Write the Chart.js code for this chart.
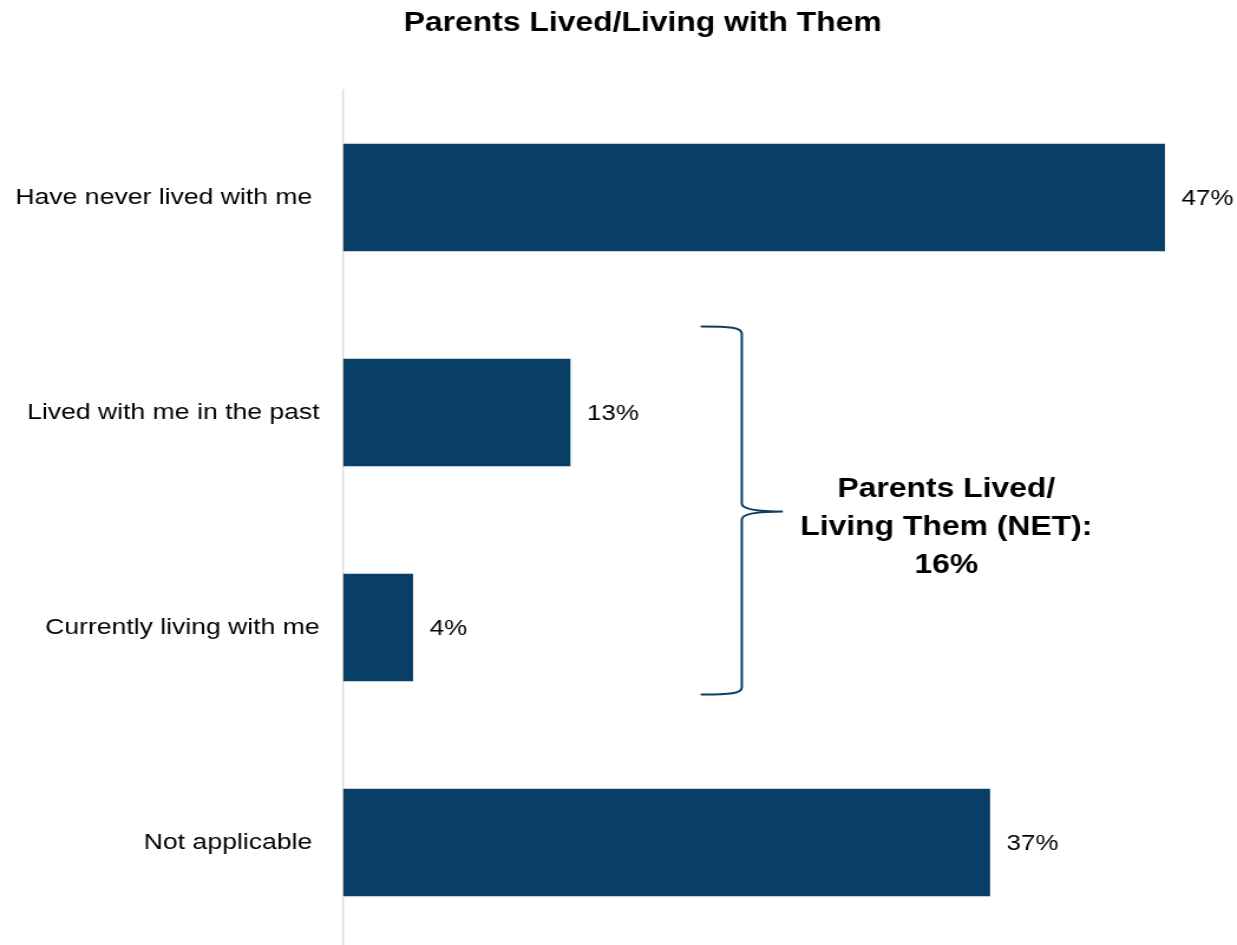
<!DOCTYPE html>
<html>
<head>
<meta charset="utf-8">
<title>Parents Lived/Living with Them</title>
<script src="https://cdn.jsdelivr.net/npm/chart.js@4/dist/chart.umd.min.js"></script>
<style>
  html, body { margin: 0; padding: 0; background: #ffffff; overflow: hidden; }
  #frame {
    position: relative;
    width: 1237px; height: 945px;
    overflow: hidden;
  }
  #chart {
    position: absolute; left: 0; top: 0;
    transform: scaleX(1.1803);
    transform-origin: 0 0;
  }
</style>
</head>
<body>
<div id="frame"><canvas id="chart" width="1048" height="951"></canvas></div>
<script>
// Survey answers and their shares (%)
const categories = [
  'Have never lived with me ',
  'Lived with me in the past',
  'Currently living with me',
  'Not applicable '
];
const shares = [47, 13, 4, 37];

const chartTitle = 'Parents Lived/Living with Them';
const netLines = ['Parents Lived/', 'Living Them (NET):', '16%'];
const netRange = [1, 2]; // categories grouped by the brace

const FONT = '"Liberation Sans", Arial, Helvetica, sans-serif';
const BAR = '#093e66';

// Title above the plot
const titlePlugin = {
  id: 'topTitle',
  afterDraw(chart) {
    const ctx = chart.ctx;
    ctx.save();
    ctx.font = 'bold 27px ' + FONT;
    ctx.fillStyle = '#000000';
    ctx.textAlign = 'center';
    ctx.textBaseline = 'alphabetic';
    ctx.fillText(chartTitle, 544.5, 31);
    ctx.restore();
  }
};

// Percent labels at the end of each bar
const valueLabels = {
  id: 'valueLabels',
  afterDatasetsDraw(chart) {
    const ctx = chart.ctx;
    const meta = chart.getDatasetMeta(0);
    ctx.save();
    ctx.font = '22px ' + FONT;
    ctx.fillStyle = '#000000';
    ctx.textAlign = 'left';
    ctx.textBaseline = 'middle';
    meta.data.forEach((bar, i) => {
      ctx.fillText(shares[i] + '%', bar.x + 14, bar.y + 1);
    });
    ctx.restore();
  }
};

// Curly brace and NET summary next to the grouped bars
const netBrace = {
  id: 'netBrace',
  afterDraw(chart) {
    const ctx = chart.ctx;
    const xs = chart.scales.x;
    const ys = chart.scales.y;
    const x0 = xs.getPixelForValue(20.5);
    const x1 = xs.getPixelForValue(22.8);
    const x2 = xs.getPixelForValue(25.15);
    const yT = ys.getPixelForValue(netRange[0]) - 86;
    const yB = ys.getPixelForValue(netRange[1]) + 67;
    const yM = (yT + yB) / 2 + 1;

    ctx.save();
    ctx.strokeStyle = BAR;
    ctx.lineWidth = 2;
    ctx.lineCap = 'round';
    ctx.beginPath();
    ctx.moveTo(x0, yT);
    ctx.bezierCurveTo(x0 + 24, yT, x1, yT + 1, x1, yT + 7);
    ctx.lineTo(x1, yM - 8);
    ctx.bezierCurveTo(x1, yM - 2, x2 - 22, yM, x2, yM);
    ctx.bezierCurveTo(x2 - 22, yM, x1, yM + 2, x1, yM + 8);
    ctx.lineTo(x1, yB - 7);
    ctx.bezierCurveTo(x1, yB - 1, x0 + 24, yB, x0, yB);
    ctx.stroke();

    ctx.font = 'bold 27px ' + FONT;
    ctx.fillStyle = '#000000';
    ctx.textAlign = 'center';
    ctx.textBaseline = 'middle';
    const cx = xs.getPixelForValue(34.5);
    netLines.forEach((line, i) => {
      ctx.fillText(line, cx, yM - 22 + i * 38);
    });
    ctx.restore();
  }
};

new Chart(document.getElementById('chart'), {
  type: 'bar',
  data: {
    labels: categories,
    datasets: [{
      data: shares,
      backgroundColor: BAR,
      borderWidth: 0,
      categoryPercentage: 1.0,
      barPercentage: 0.5
    }]
  },
  options: {
    indexAxis: 'y',
    responsive: false,
    devicePixelRatio: 1,
    animation: false,
    layout: { padding: { top: 90, bottom: 1, left: 0, right: 61 } },
    plugins: {
      legend: { display: false },
      tooltip: { enabled: false },
      title: { display: false }
    },
    scales: {
      x: { display: false, min: 0, max: 47 },
      y: {
        grid: { display: false, drawTicks: false },
        border: { display: true, color: '#d9d9d9', width: 1.3 },
        ticks: {
          padding: 20,
          color: '#000000',
          font: { family: FONT, size: 22.5 }
        },
        afterFit(scale) {
          scale.width = 290.7;
          // labels sit at category centres, so no extra room above/below
          scale.paddingTop = 0;
          scale.paddingBottom = 0;
        }
      }
    }
  },
  plugins: [titlePlugin, valueLabels, netBrace]
});
</script>
</body>
</html>
